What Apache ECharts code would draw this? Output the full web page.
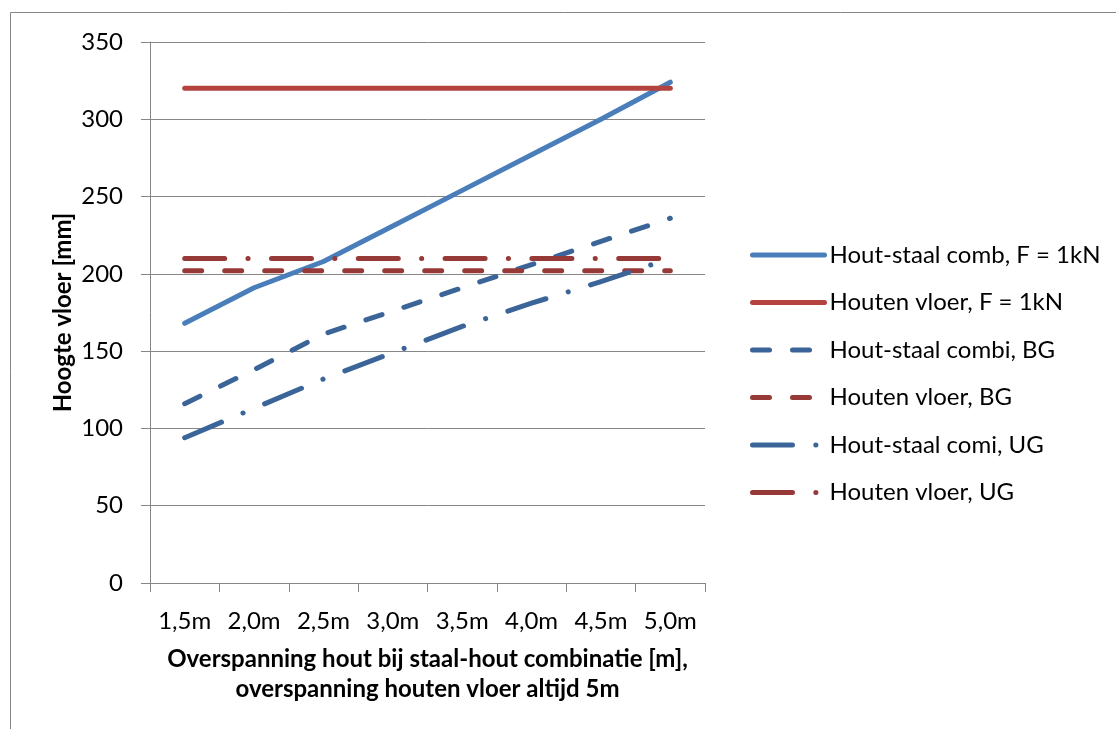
<!DOCTYPE html>
<html>
<head>
<meta charset="utf-8">
<script src="https://cdn.jsdelivr.net/npm/echarts@6/dist/echarts.min.js"></script>
<style>
  html, body { margin: 0; padding: 0; background: #ffffff; }
  #chart { width: 1116px; height: 729px; }
</style>
</head>
<body>
<div id="chart"></div>
<script>
// Overspanning (categorie-as)
var spans = ['1,5m', '2,0m', '2,5m', '3,0m', '3,5m', '4,0m', '4,5m', '5,0m'];

// Vloerhoogte in mm per overspanning
var combF1kN   = [168, 191, 208, 231, 254, 277, 300, 324];
var houtF1kN   = [320, 320, 320, 320, 320, 320, 320, 320];
var combiBG    = [116, 138, 161, 176, 191, 206, 221, 236];
var houtBG     = [202, 202, 202, 202, 202, 202, 202, 202];
var comiUG     = [94, 113, 132, 149, 166, 181, 195, 210];
var houtUG     = [210, 210, 210, 210, 210, 210, 210, 210];

var seriesNames = [
  'Hout-staal comb, F = 1kN',
  'Houten vloer, F = 1kN',
  'Hout-staal combi, BG',
  'Houten vloer, BG',
  'Hout-staal comi, UG',
  'Houten vloer, UG'
];

var FONT = 'Lato, "Open Sans", sans-serif';
var GREY = '#868686';
var DASH = [17, 23];
var DASH_DOT = [40, 23.3, 0.1, 23.4];

function lineSeries(name, data, color, type) {
  return {
    name: name,
    type: 'line',
    data: data,
    symbol: 'none',
    showSymbol: false,
    animation: false,
    lineStyle: { color: color, width: 5, type: type, cap: 'round', join: 'round' },
    itemStyle: { color: color }
  };
}

var chart = echarts.init(document.getElementById('chart'), null, { renderer: 'canvas' });

chart.setOption({
  animation: false,
  backgroundColor: '#ffffff',
  textStyle: { fontFamily: FONT },
  graphic: [{
    type: 'rect',
    shape: { x: 10.5, y: 12.5, width: 1200, height: 800 },
    style: { fill: 'none', stroke: GREY, lineWidth: 1 },
    silent: true,
    z: -10
  }],
  grid: { left: 150, top: 42, width: 555, height: 541 },
  legend: {
    orient: 'vertical',
    left: 745,
    top: 238,
    itemWidth: 72,
    itemHeight: 14,
    itemGap: 23.5,
    itemStyle: { opacity: 0 },
    lineStyle: { width: 5, cap: 'round', type: 'inherit', color: 'inherit' },
    textStyle: { fontFamily: FONT, fontSize: 24, color: '#000000', lineHeight: 24 },
    data: seriesNames
  },
  xAxis: {
    type: 'category',
    data: spans,
    boundaryGap: true,
    axisLine: { show: true, lineStyle: { color: GREY, width: 1 } },
    axisTick: { show: true, length: 9, interval: 0, lineStyle: { color: GREY } },
    axisLabel: { interval: 0, margin: 26, fontFamily: FONT, fontSize: 24, color: '#000000' },
    splitLine: { show: false },
    name: 'Overspanning hout bij staal-hout combinatie [m],\noverspanning houten vloer altijd 5m',
    nameLocation: 'middle',
    nameGap: 61,
    nameTextStyle: { fontFamily: FONT, fontSize: 24, fontWeight: 'bold', color: '#000000', lineHeight: 30 }
  },
  yAxis: {
    type: 'value',
    min: 0,
    max: 350,
    interval: 50,
    axisLine: { show: true, lineStyle: { color: GREY, width: 1 } },
    axisTick: { show: true, length: 9, lineStyle: { color: GREY } },
    axisLabel: { margin: 27, fontFamily: FONT, fontSize: 24, color: '#000000' },
    splitLine: { show: true, lineStyle: { color: GREY, width: 1 } },
    name: 'Hoogte vloer [mm]',
    nameLocation: 'middle',
    nameGap: 75,
    nameTextStyle: { fontFamily: FONT, fontSize: 24, fontWeight: 'bold', color: '#000000' }
  },
  series: [
    lineSeries(seriesNames[0], combF1kN, '#4A7EBB', 'solid'),
    lineSeries(seriesNames[1], houtF1kN, '#B4433F', 'solid'),
    lineSeries(seriesNames[2], combiBG, '#3B6598', DASH),
    lineSeries(seriesNames[3], houtBG, '#963937', DASH),
    lineSeries(seriesNames[4], comiUG, '#3B6598', DASH_DOT),
    lineSeries(seriesNames[5], houtUG, '#963937', DASH_DOT)
  ]
});
</script>
</body>
</html>
